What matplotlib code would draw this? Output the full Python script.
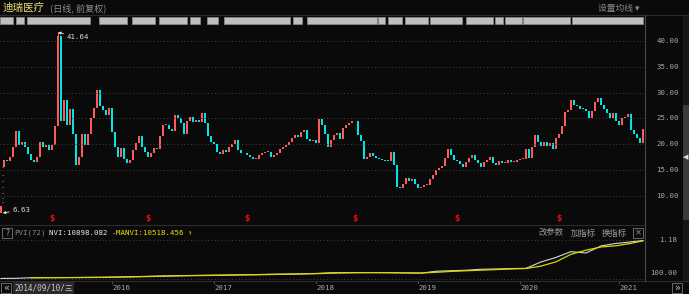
import matplotlib
matplotlib.use("Agg")
import matplotlib.pyplot as plt
from matplotlib.patches import Rectangle
from matplotlib.lines import Line2D
import numpy as np

plt.rcParams["font.family"] = ["DejaVu Sans", "Noto Sans CJK SC"]

W, H = 689, 294
BG = "#0a0a0a"
UP = "#ff5a5a"
DOWN = "#00e5e5"
GRID = "#444444"
LABEL = "#a8a8a8"
MONO = ["DejaVu Sans Mono", "Noto Sans CJK SC"]
CJK = ["Noto Sans CJK SC", "DejaVu Sans"]

# --- data (one candle ~ one week) ---
ipo_open = 6.63
limit_up = [8.75, 9.62, 10.58, 11.64, 12.81, 14.09, 15.50]
closes = [
    7.95,
    17.0, 16.8, 17.5, 19.5, 22.5, 19.8, 20.5, 19.5, 18.0, 16.9, 16.6, 17.5, 20.5, 19.5,
    19.8, 18.9, 19.8, 23.5, 41.0, 24.5, 28.5, 23.7, 26.8, 22.0, 16.0, 17.5, 22.0, 19.8,
    22.0, 25.0, 27.0, 30.5, 27.3, 26.7, 25.6, 27.0, 22.4, 19.5, 17.5, 19.2, 17.1, 16.4,
    17.0, 18.8, 20.2, 21.5, 19.5, 18.5, 17.6, 18.2, 19.2, 19.0, 21.5, 23.7,
    23.7, 23.0, 22.5, 25.6, 25.0, 24.0, 22.0, 24.5, 25.2, 24.3, 24.7, 24.3, 26.0, 24.0,
    21.5, 20.5, 20.1, 18.5, 18.0, 18.8, 18.5, 19.4, 20.0, 20.8, 18.9, 18.2, 18.2, 17.9,
    17.6, 17.2, 17.2, 17.8, 18.3, 18.5, 18.5, 17.6, 17.9, 18.2, 19.0, 19.4, 19.9, 20.4,
    21.1, 21.7, 21.4, 22.4, 22.7, 21.0, 20.7, 20.8, 20.2, 24.8, 23.7,
    22.0, 19.5, 20.8, 21.7, 22.1, 21.0, 23.2, 23.8, 24.1, 24.4, 24.5, 21.8, 20.6, 17.2,
    17.5, 18.3, 17.7, 17.3, 17.2, 17.0, 16.8, 16.7, 18.5, 16.0, 11.7, 11.5, 12.2, 13.4,
    12.8, 13.2, 12.2, 11.4, 11.7, 12.1, 12.1, 13.2, 14.1, 15.0, 15.3, 15.7, 17.3, 19.0,
    17.8, 17.0, 16.7, 16.1, 15.6, 16.5, 17.3, 17.9, 16.9, 16.4, 15.6,
    16.6, 16.9, 17.5, 16.3, 16.0, 16.8, 16.3, 16.3, 17.0, 16.5, 16.6, 17.0, 17.2, 17.2,
    19.0, 17.4, 19.5, 21.8, 20.4, 19.6, 20.5, 19.6, 20.3, 19.0, 21.1, 22.0, 23.5, 26.3,
    26.6, 28.5, 27.5, 27.3, 26.9, 26.8, 26.5, 25.0, 26.4, 28.1, 28.9, 27.6, 26.9, 26.1,
    25.1, 26.1, 24.5, 23.8, 25.0, 25.3, 25.8, 22.7, 22.0, 21.2, 20.2, 23.0,
]
spike_idx, spike_high = 19, 41.64
dividend_idx = [17, 49, 82, 118, 152, 186]
year_idx = [37, 71, 105, 139, 173, 206]
year_labels = ["2016", "2017", "2018", "2019", "2020", "2021"]
price_ticks = [10, 15, 20, 25, 30, 35, 40]

nvi_last, manvi_last = 10898.082, 10518.456
nvi_idx = [0, 5, 10, 15, 20, 25, 30, 35, 40, 45, 50, 55, 60, 65, 70, 75, 80, 85, 90, 95,
           100, 105, 110, 115, 120, 125, 130, 135, 140, 145, 150, 155, 160, 165, 170,
           175, 180, 185, 190, 195, 200, 205, 210, 214]
nvi = [45, 46, 50, 51, 51, 52, 53, 54, 56, 59, 62, 65, 68, 70, 72, 74, 77, 79, 83, 85,
       88, 93, 103, 105, 106, 105, 103, 100, 97, 128, 138, 148, 171, 177, 190, 195,
       492, 950, 2190, 1800, 5000, 7200, 9000, nvi_last]
manvi_idx = nvi_idx[2:]
manvi = [50, 50, 51, 51, 52, 53, 55, 57, 60, 63, 66, 68, 70, 72, 75, 77, 80, 83, 86,
         90, 96, 101, 104, 105, 104, 102, 99, 110, 125, 137, 150, 163, 178, 190, 270,
         500, 1500, 2700, 4300, 5100, 7300, manvi_last]

# blurred info strip (pixel spans on the top row)
blur_spans = [(0, 13), (16, 24), (27, 90), (99, 127), (132, 155), (159, 187), (190, 200),
              (207, 218), (224, 290), (293, 302), (307, 377), (378, 385), (388, 402),
              (405, 428), (430, 462), (466, 493), (495, 503), (505, 522), (523, 570),
              (572, 643)]


def fx(px):
    return px / W


def fy(py):
    return 1 - py / H


def box(fig, x0, y0, x1, y1, face="none", edge="#777777", lw=0.6):
    fig.patches.append(Rectangle((fx(x0), fy(y1)), fx(x1 - x0), (y1 - y0) / H,
                                 transform=fig.transFigure, facecolor=face,
                                 edgecolor=edge, linewidth=lw))


def hline(fig, y, x0, x1, color="#2c2c2c", lw=0.8):
    fig.lines.append(Line2D([fx(x0), fx(x1)], [fy(y), fy(y)], transform=fig.transFigure,
                            color=color, linewidth=lw))


def vline(fig, x, y0, y1, color="#2c2c2c", lw=0.8):
    fig.lines.append(Line2D([fx(x), fx(x)], [fy(y0), fy(y1)], transform=fig.transFigure,
                            color=color, linewidth=lw))


fig = plt.figure(figsize=(W / 100, H / 100), dpi=100, facecolor=BG)

# --- main candle panel ---
ax = fig.add_axes([0, fy(224), fx(644), (224 - 26) / H])
ax.set_facecolor(BG)
ax.set_xlim(-0.33, 214.33)
ax.set_ylim(4.52, 42.89)
ax.axis("off")

ax.hlines(price_ticks, -0.33, 214.33, colors=GRID, linewidth=0.7, linestyles=(0, (1, 2.5)))

n = len(closes)
idx = np.arange(n)
cl = np.array(closes)
op = np.array([ipo_open, limit_up[-1]] + closes[1:-1])
colors = np.where(cl >= op, UP, DOWN)
ax.bar(idx, np.maximum(np.abs(cl - op), 0.15), bottom=np.minimum(op, cl), width=0.6,
       color=colors, linewidth=0)
ax.vlines(spike_idx, cl[spike_idx], spike_high, color=UP, linewidth=0.8)
ax.hlines(limit_up, 0.35, 0.65, color=UP, linewidth=0.8)

ax.annotate(f"{spike_high:.2f}", xy=(spike_idx, spike_high), xytext=(21.8, 40.8),
            color="#dddddd", fontsize=5.3, family=MONO, va="center",
            arrowprops=dict(arrowstyle="-|>", color="#dddddd", lw=0.6,
                            mutation_scale=4, shrinkA=0, shrinkB=0))
ax.annotate(f"{ipo_open:.2f}", xy=(0.6, ipo_open), xytext=(3.7, 7.3),
            color="#dddddd", fontsize=5.3, family=MONO, va="center",
            arrowprops=dict(arrowstyle="-|>", color="#dddddd", lw=0.6,
                            mutation_scale=4, shrinkA=0, shrinkB=0))

for d in dividend_idx:
    ax.text(d, 5.6, "$", color="#e01010", fontsize=5.5, ha="center", va="center",
            fontweight="bold", parse_math=False)

tr = ax.get_yaxis_transform()
for p in price_ticks:
    ax.text(679 / 644, p, f"{p:.2f}", transform=tr, ha="right", va="center",
            color=LABEL, fontsize=5.3, family=MONO, clip_on=False)

# --- NVI indicator panel ---
ax2 = fig.add_axes([0, fy(281), fx(644), (281 - 226) / H])
ax2.set_facecolor(BG)
ax2.set_xlim(-0.33, 214.33)
ax2.set_yscale("log")
ax2.set_ylim(31.2, 89700)
ax2.axis("off")
ax2.hlines([11800, 42], -0.33, 214.33, colors=GRID, linewidth=0.7,
           linestyles=(0, (1, 2.5)))
ax2.plot(nvi_idx, nvi, color="#d8d8d8", linewidth=0.8)
ax2.plot(manvi_idx, manvi, color="#d8d800", linewidth=0.9)
tr2 = ax2.get_yaxis_transform()
ax2.text(677 / 644, 11800, "1.18", transform=tr2, ha="right", va="center",
         color=LABEL, fontsize=5.3, family=MONO, clip_on=False)
ax2.text(677 / 644, 100, "100.00", transform=tr2, ha="right", va="center",
         color=LABEL, fontsize=5.3, family=MONO, clip_on=False)

xtr = ax2.get_xaxis_transform()
for yi, lab in zip(year_idx, year_labels):
    ax2.plot([yi, yi], [0, -0.04], transform=xtr, color="#666666", lw=0.6, clip_on=False)
    ax2.text(yi + 3, -0.13, lab, transform=xtr, ha="center", va="center",
             color=LABEL, fontsize=5.3, family=MONO, clip_on=False)

# --- frame lines ---
hline(fig, 15, 0, 689)
hline(fig, 225, 0, 644)
hline(fig, 281, 0, 689)
vline(fig, 644.5, 15, 281, color="#4a4a4a")

# title row
fig.text(fx(3), fy(8), "迪瑞医疗", color="#e6e070", fontsize=7.6, family=CJK, va="center")
fig.text(fx(50), fy(8), "(日线, 前复权)", color="#8c8c8c", fontsize=6.6, family=CJK,
         va="center")
fig.text(fx(598), fy(8), "设置均线 ▾", color="#8c8c8c", fontsize=6.3, family=CJK,
         va="center")

for x0, x1 in blur_spans:
    fig.patches.append(Rectangle((fx(x0), fy(23.5)), fx(x1 - x0), 6 / H,
                                 transform=fig.transFigure, facecolor="#d4d4d4",
                                 edgecolor="#8a8a8a", linewidth=0.6, alpha=0.9))

# indicator header
box(fig, 2, 228, 12, 238)
fig.text(fx(7), fy(233), "?", color="#9a9a9a", fontsize=5.5, ha="center", va="center")
fig.text(fx(14), fy(233), "PVI(72)", color="#8a8a8a", fontsize=5.3, family=MONO,
         va="center")
fig.text(fx(49), fy(233), f"NVI:{nvi_last:.3f} -", color="#e6e6e6", fontsize=5.3,
         family=MONO, va="center")
fig.text(fx(116), fy(233), f"MANVI:{manvi_last:.3f} ↑", color="#e6e600", fontsize=5.3,
         family=MONO, va="center")
for x, s in [(539, "改参数"), (571, "加指标"), (602, "换指标")]:
    fig.text(fx(x), fy(233), s, color="#9a9a9a", fontsize=6, family=CJK, va="center")
box(fig, 633, 228, 643, 238)
fig.text(fx(638), fy(233), "×", color="#9a9a9a", fontsize=6, ha="center", va="center")

# bottom bar
box(fig, 0.5, 283, 11, 293)
fig.text(fx(6), fy(288), "«", color="#bbbbbb", fontsize=7, ha="center", va="center")
box(fig, 13, 282, 74, 294, face="#2a2a2a", edge="none")
fig.text(fx(43.5), fy(288), "2014/09/10/三", color="#c8c8c8", fontsize=5.6, family=MONO,
         ha="center", va="center")
box(fig, 672, 283, 682, 293)
fig.text(fx(677), fy(288), "»", color="#bbbbbb", fontsize=7, ha="center", va="center")

# right scroll strip
box(fig, 683, 15, 689, 281, face="#161616", edge="none")
box(fig, 683, 105, 689, 220, face="#3a3a3a", edge="none")
fig.text(fx(686), fy(157), "◀", color="#e0e0e0", fontsize=5, ha="center", va="center")

fig.savefig("out.png", dpi=100, facecolor=BG)
